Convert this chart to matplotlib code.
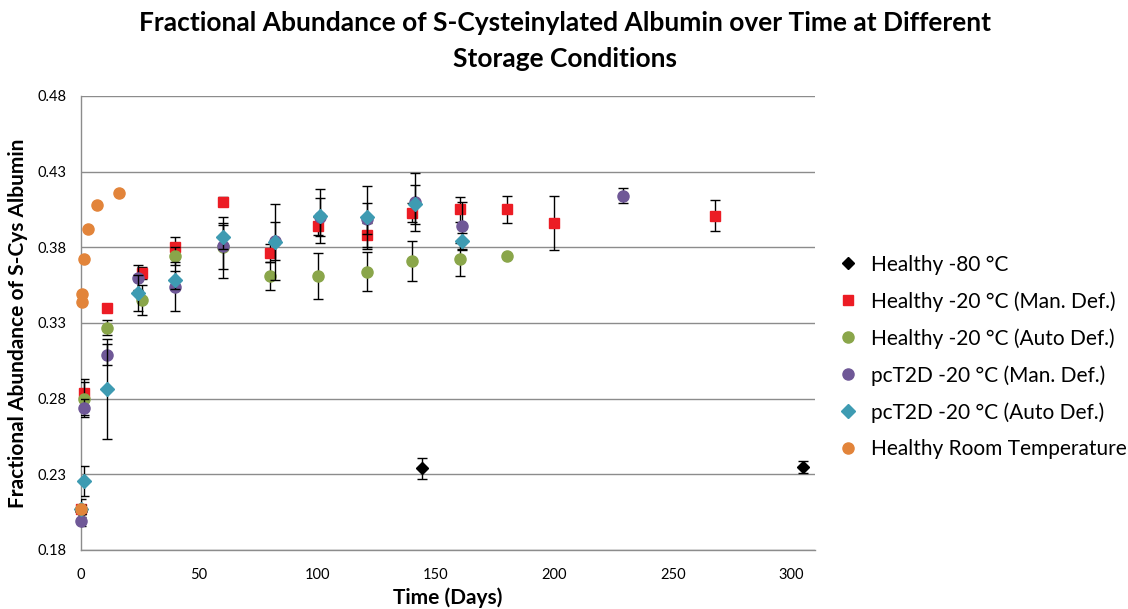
import matplotlib
matplotlib.use("Agg")
import matplotlib.pyplot as plt
from matplotlib.lines import Line2D

plt.rcParams['font.family'] = ['Lato', 'DejaVu Sans']

# ---- data ----
h80_days = [0, 144, 305]
h80_vals = [0.206, 0.234, 0.235]
h80_err = [0.008, 0.007, 0.004]

hman_days = [0, 1.5, 11, 26, 40, 60, 80, 100, 121, 140, 160, 180, 200, 268]
hman_vals = [0.207, 0.284, 0.340, 0.363, 0.380, 0.410, 0.376, 0.394, 0.388, 0.403, 0.405, 0.405, 0.396, 0.401]
hman_err = [0.003, 0.009, 0.002, 0.004, 0.007, 0.003, 0.006, 0.006, 0.008, 0.006, 0.008, 0.009, 0.018, 0.010]

hauto_days = [0, 1.5, 11, 26, 40, 60, 80, 100, 121, 140, 160, 180]
hauto_vals = [0.207, 0.280, 0.327, 0.345, 0.374, 0.380, 0.361, 0.361, 0.364, 0.371, 0.372, 0.374]
hauto_err = [0.003, 0.011, 0.005, 0.010, 0.006, 0.020, 0.009, 0.015, 0.013, 0.013, 0.011, 0.0]

pman_days = [0, 1.5, 11, 24, 40, 60, 82, 101, 121, 141, 161, 229]
pman_vals = [0.199, 0.274, 0.309, 0.360, 0.354, 0.381, 0.384, 0.400, 0.399, 0.410, 0.394, 0.414]
pman_err = [0.003, 0.006, 0.007, 0.008, 0.016, 0.015, 0.0125, 0.0126, 0.010, 0.019, 0.016, 0.005]

pauto_days = [0, 1.5, 11, 24, 40, 60, 82, 101, 121, 141, 161]
pauto_vals = [0.207, 0.2256, 0.2866, 0.3497, 0.3585, 0.387, 0.3837, 0.4006, 0.3998, 0.4085, 0.3842]
pauto_err = [0.003, 0.010, 0.033, 0.012, 0.006, 0.008, 0.025, 0.0178, 0.021, 0.013, 0.005]

rt_days = [0, 0.5, 0.6, 1.5, 3, 7, 16]
rt_vals = [0.207, 0.349, 0.344, 0.372, 0.392, 0.408, 0.416]

labels = ["Healthy -80 °C", "Healthy -20 °C (Man. Def.)", "Healthy -20 °C (Auto Def.)",
          "pcT2D -20 °C (Man. Def.)", "pcT2D -20 °C (Auto Def.)", "Healthy Room Temperature"]
colors = ["#000000", "#EC1C24", "#8AA64A", "#6F5897", "#3E9BB2", "#E2843A"]

yticks = [0.18, 0.23, 0.28, 0.33, 0.38, 0.43, 0.48]
xticks = [0, 50, 100, 150, 200, 250, 300]

# ---- figure ----
fig = plt.figure(figsize=(11.28, 6.09), dpi=100)
ax = fig.add_axes([0.0715, 0.0969, 0.651, 0.7455])

series = [
    (h80_days, h80_vals, h80_err, 'D', 6.0),
    (hman_days, hman_vals, hman_err, 's', 7.0),
    (hauto_days, hauto_vals, hauto_err, 'o', 8.0),
    (pman_days, pman_vals, pman_err, 'o', 8.0),
    (pauto_days, pauto_vals, pauto_err, 'D', 7.5),
]
for i, (d, v, e, m, ms) in enumerate(series):
    eb = ax.errorbar(d, v, yerr=e, fmt=m, color=colors[i], ms=ms, mec=colors[i],
                     ecolor='black', elinewidth=1.0, capsize=3.5, capthick=1.0,
                     zorder=3 + i, label=labels[i])
    eb.lines[0].set_clip_on(False)
ax.plot(rt_days, rt_vals, 'o', color=colors[5], ms=8, zorder=9,
        label=labels[5], clip_on=False)

ax.set_xlim(0, 310)
ax.set_ylim(0.18, 0.48)
ax.set_xticks(xticks)
ax.set_yticks(yticks)
ax.set_yticklabels([f"{t:.2f}" for t in yticks])
ax.tick_params(axis='both', length=0, labelsize=10.5, colors='#000000')
ax.tick_params(axis='y', pad=10)
ax.tick_params(axis='x', pad=13)
ax.grid(axis='y', color='#8c8c8c', linewidth=1.0)
ax.set_axisbelow(True)
for s in ['top', 'right']:
    ax.spines[s].set_visible(False)
for s in ['left', 'bottom']:
    ax.spines[s].set_color('#8c8c8c')
    ax.spines[s].set_linewidth(1.0)

ax.set_xlabel("Time (Days)", fontsize=15, fontweight='bold', labelpad=4)
ax.set_ylabel("Fractional Abundance of S-Cys Albumin", fontsize=15, fontweight='bold', labelpad=7)

fig.suptitle("Fractional Abundance of S-Cysteinylated Albumin over Time at Different\nStorage Conditions",
             fontsize=19, fontweight='bold', x=0.501, y=0.982, va='top', linespacing=1.62)

leg_handles = [
    Line2D([], [], ls='none', marker='D', color=colors[0], ms=6),
    Line2D([], [], ls='none', marker='s', color=colors[1], ms=7),
    Line2D([], [], ls='none', marker='o', color=colors[2], ms=8),
    Line2D([], [], ls='none', marker='o', color=colors[3], ms=8),
    Line2D([], [], ls='none', marker='D', color=colors[4], ms=7),
    Line2D([], [], ls='none', marker='o', color=colors[5], ms=8),
]
fig.legend(leg_handles, labels, loc='center left', bbox_to_anchor=(0.737, 0.414),
           frameon=False, fontsize=15, handlelength=0.8, handletextpad=0.7,
           labelspacing=0.79, borderaxespad=0)

fig.savefig("out.png", dpi=100)
